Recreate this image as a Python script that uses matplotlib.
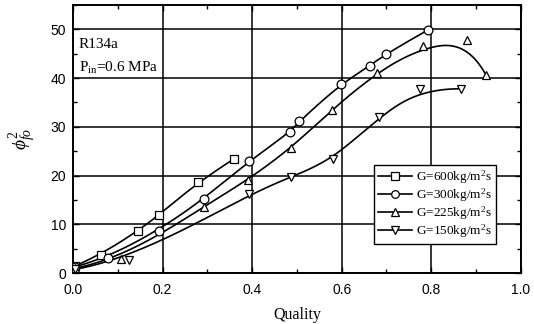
import numpy as np
import matplotlib
matplotlib.use("Agg")
import matplotlib.pyplot as plt
from matplotlib.ticker import MultipleLocator

# ---- data ----
x600 = [0.005, 0.062, 0.144, 0.192, 0.279, 0.359]
y600 = [1.5, 3.8, 8.6, 11.9, 18.7, 23.4]

x300 = [0.005, 0.077, 0.191, 0.293, 0.392, 0.485, 0.505, 0.598, 0.664, 0.699, 0.794]
y300 = [1.3, 3.2, 8.7, 15.3, 22.9, 28.9, 31.1, 38.8, 42.5, 45.0, 49.9]

x225 = [0.005, 0.107, 0.292, 0.390, 0.487, 0.578, 0.678, 0.782, 0.880, 0.922]
y225 = [1.0, 2.9, 13.6, 19.1, 25.6, 33.5, 41.1, 46.6, 47.7, 40.7]

x150 = [0.005, 0.124, 0.393, 0.487, 0.581, 0.683, 0.774, 0.866]
y150 = [0.8, 2.7, 16.2, 19.7, 23.3, 32.0, 37.8, 37.8]

labels = [r"G=600kg/m$^2$s", r"G=300kg/m$^2$s", r"G=225kg/m$^2$s", r"G=150kg/m$^2$s"]
markers = ["s", "o", "^", "v"]

xticks = [0.0, 0.2, 0.4, 0.6, 0.8, 1.0]
yticks = [0, 10, 20, 30, 40, 50]


def bspline(xs, ys, k=3, num=300):
    P = np.column_stack([xs, ys])
    n = len(P)
    k = min(k, n - 1)
    inner = np.arange(1, n - k)
    t = np.concatenate([np.zeros(k + 1), inner, np.full(k + 1, n - k)]).astype(float)
    u = np.linspace(0, n - k, num)
    u[-1] -= 1e-9
    m = len(t) - 1
    N = np.zeros((num, m))
    for i in range(m):
        N[:, i] = ((t[i] <= u) & (u < t[i + 1])).astype(float)
    for d in range(1, k + 1):
        Nn = np.zeros((num, m - d))
        for i in range(m - d):
            a = t[i + d] - t[i]
            b = t[i + d + 1] - t[i + 1]
            left = (u - t[i]) / a * N[:, i] if a > 0 else 0.0
            right = (t[i + d + 1] - u) / b * N[:, i + 1] if b > 0 else 0.0
            Nn[:, i] = left + right
        N = Nn
    C = N[:, :n] @ P
    return C[:, 0], C[:, 1]


plt.rcParams["font.family"] = ["Liberation Serif", "DejaVu Serif"]
plt.rcParams["mathtext.fontset"] = "custom"
plt.rcParams["mathtext.rm"] = "Liberation Serif"
plt.rcParams["mathtext.it"] = "Liberation Serif:italic"

fig = plt.figure(figsize=(5.34, 3.24), dpi=100)
ax = fig.add_axes([0.137, 0.157, 0.838, 0.828])

series = [(x600, y600), (x300, y300), (x225, y225), (x150, y150)]
for (xs, ys), mk, lab in zip(series, markers, labels):
    cx, cy = bspline(xs, ys)
    ax.plot(cx, cy, color="black", lw=1.2, zorder=3)
    ax.plot(xs, ys, linestyle="none", marker=mk, ms=6.3, mfc="white",
            mec="black", mew=0.9, zorder=4)
    ax.plot([], [], color="black", lw=1.2, marker=mk, ms=5.5, mfc="white",
            mec="black", mew=0.9, label=lab)

ax.set_xlim(0, 1.0)
ax.set_ylim(0, 55)
ax.set_xticks(xticks)
ax.set_yticks(yticks)
ax.xaxis.set_minor_locator(MultipleLocator(0.1))
ax.yaxis.set_minor_locator(MultipleLocator(5))
ax.grid(True, which="major", color="black", lw=1.1)
ax.tick_params(which="both", direction="in", top=True, right=True, color="black")
ax.tick_params(which="major", length=4, width=1)
ax.tick_params(which="minor", length=3, width=1)
ax.tick_params(axis="x", pad=7)
ax.tick_params(axis="y", pad=5)
for lbl in ax.get_xticklabels() + ax.get_yticklabels():
    lbl.set_fontfamily("Liberation Sans")
    lbl.set_fontsize(10)
for s in ax.spines.values():
    s.set_linewidth(1.4)

ax.set_xlabel("Quality", fontsize=11.5, labelpad=7)
ax.set_ylabel(r"$\phi^2_{fo}$", fontsize=14, labelpad=9)

ax.text(0.012, 0.851, "R134a", transform=ax.transAxes, fontsize=11, va="center")
ax.text(0.012, 0.765, r"P$_{\rm in}$=0.6 MPa", transform=ax.transAxes, fontsize=11, va="center")

leg = ax.legend(loc="lower right", bbox_to_anchor=(0.945, 0.11), fontsize=9.5,
                frameon=True, fancybox=False, edgecolor="black", framealpha=1,
                handlelength=2.6, handletextpad=0.3, borderpad=0.3, labelspacing=0.02,
                borderaxespad=0.0)
leg.get_frame().set_linewidth(1.0)
leg.set_zorder(5)

fig.savefig("out.png", dpi=100)
